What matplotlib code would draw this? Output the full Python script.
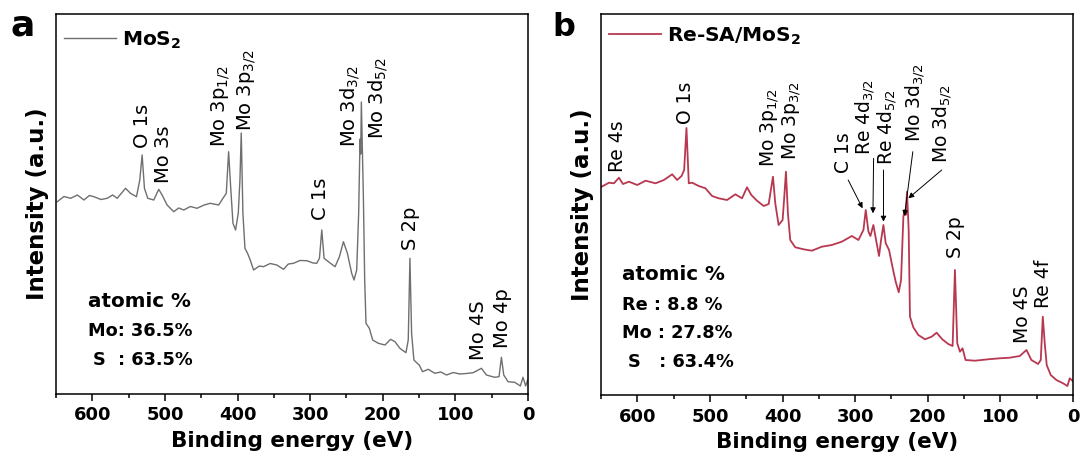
import matplotlib
matplotlib.use("Agg")
import matplotlib.pyplot as plt
from matplotlib.ticker import MultipleLocator

plt.rcParams['font.family'] = ['DejaVu Sans']
plt.rcParams['mathtext.fontset'] = 'dejavusans'

# --- survey spectra (binding energy eV, intensity a.u.) ---
mos2_ev = [648.2, 639.0, 629.9, 620.5, 611.5, 604.0, 597.8, 588.0, 579.5, 572.0,
           565.7, 554.3, 547.4, 539.2, 534.6, 531.4, 528.2, 523.6, 515.4, 508.5,
           503.9, 497.0, 487.9, 481.0, 474.1, 465.0, 455.8, 446.0, 437.5, 426.0,
           420.1, 415.5, 412.3, 409.5, 406.3, 402.7, 399.0, 396.7, 394.9, 392.6,
           389.8, 386.2, 382.5, 377.9, 370.0, 364.2, 355.0, 345.9, 336.7, 330.0,
           323.0, 314.0, 304.6, 296.0, 290.9, 287.2, 284.0, 280.8, 274.9, 265.7,
           259.7, 254.2, 248.7, 242.8, 239.6, 235.9, 233.2, 231.3, 230.4, 229.5,
           226.7, 224.9, 223.1, 218.5, 213.9, 206.1, 197.0, 189.2, 183.2, 176.4,
           168.1, 164.9, 162.6, 160.3, 157.1, 152.5, 149.8, 145.2, 137.4, 128.3,
           120.0, 112.2, 103.0, 93.9, 85.0, 75.6, 64.1, 57.3, 45.8, 39.9,
           36.6, 33.4, 27.5, 18.3, 10.5, 6.9, 3.2, 0.5]
mos2_int = [192.3, 197.5, 195.7, 199.0, 194.0, 198.5, 197.3, 194.5, 195.7, 199.0,
            195.7, 205.7, 200.7, 197.3, 214.0, 239.0, 205.7, 195.7, 194.0, 204.7,
            199.0, 189.0, 182.3, 186.0, 184.0, 187.5, 185.7, 189.0, 190.7, 189.0,
            195.7, 200.7, 242.3, 207.3, 170.7, 164.0, 180.7, 214.0, 261.0, 180.7,
            145.7, 140.7, 134.0, 124.0, 128.0, 127.3, 130.5, 129.0, 124.7, 130.0,
            130.7, 133.5, 133.3, 131.0, 130.7, 135.7, 164.0, 135.7, 132.3, 127.3,
            137.3, 152.3, 140.7, 120.7, 114.0, 124.0, 180.7, 255.0, 240.0, 292.0,
            197.3, 114.0, 70.7, 65.7, 54.0, 50.7, 49.0, 54.7, 52.3, 45.7,
            41.3, 54.0, 135.7, 60.7, 34.0, 30.7, 29.0, 22.3, 24.7, 20.7,
            22.0, 19.0, 21.5, 20.0, 20.5, 21.3, 25.7, 19.0, 16.7, 17.3,
            36.7, 19.0, 12.3, 11.7, 8.0, 16.7, 8.0, 14.0]

re_ev = [649.1, 639.0, 632.2, 625.3, 619.8, 611.5, 600.1, 588.6, 574.9, 563.4,
         552.0, 545.1, 539.1, 535.5, 532.3, 529.1, 524.5, 515.4, 506.2, 497.0,
         487.9, 476.4, 465.0, 455.8, 448.9, 443.0, 435.2, 426.0, 419.1, 413.2,
         410.0, 405.4, 399.9, 397.6, 395.3, 392.6, 389.4, 382.5, 371.0, 359.6,
         345.9, 332.1, 318.4, 304.6, 295.5, 288.6, 285.4, 281.7, 279.0, 274.9,
         271.2, 267.1, 264.3, 261.1, 257.9, 253.3, 248.7, 244.2, 240.0, 236.8,
         233.6, 231.8, 230.4, 228.6, 226.3, 224.5, 219.9, 213.0, 203.8, 194.7,
         187.8, 180.0, 171.8, 165.8, 162.6, 159.4, 155.7, 152.1, 148.0, 135.1,
         116.8, 100.8, 87.0, 73.3, 64.1, 57.3, 48.1, 44.4, 41.6, 38.9,
         36.2, 30.7, 22.9, 13.7, 7.7, 4.5, 0.9]
re_int = [208.3, 212.3, 211.7, 217.3, 211.0, 213.3, 210.0, 214.3, 211.7, 215.0,
          220.7, 215.0, 219.0, 225.0, 267.0, 211.7, 212.3, 209.0, 206.7, 199.0,
          196.7, 195.0, 200.7, 196.7, 207.7, 200.0, 194.3, 189.0, 191.0, 218.3,
          191.7, 170.0, 175.0, 198.3, 223.3, 181.7, 155.0, 147.7, 145.7, 144.3,
          148.3, 150.0, 153.3, 159.0, 155.0, 165.0, 185.0, 163.3, 159.0, 170.0,
          155.0, 139.0, 155.0, 170.0, 151.7, 145.0, 128.3, 113.3, 102.7, 115.0,
          178.3, 185.0, 180.0, 203.3, 165.0, 78.3, 67.7, 60.0, 55.7, 58.3,
          62.3, 55.7, 51.0, 49.0, 125.0, 51.7, 43.3, 46.7, 35.0, 34.3,
          35.7, 36.7, 37.3, 39.0, 45.0, 35.0, 31.0, 35.0, 78.3, 51.7,
          30.0, 20.0, 15.0, 11.7, 9.0, 16.7, 14.3]

# peak labels: text, energy, bottom of label (intensity)
mos2_labels = ['O 1s', 'Mo 3s', 'Mo 3p$_{1/2}$', 'Mo 3p$_{3/2}$', 'C 1s',
               'Mo 3d$_{3/2}$', 'Mo 3d$_{5/2}$', 'S 2p', 'Mo 4S', 'Mo 4p']
mos2_lab_ev = [530.6, 502, 424, 388, 286, 245, 206, 161.6, 68.7, 35.2]
mos2_lab_y = [246, 211, 247, 263, 174, 247, 255, 144, 34, 46]

re_labels = ['Re 4s', 'O 1s', 'Mo 3p$_{1/2}$', 'Mo 3p$_{3/2}$', 'C 1s',
             'Re 4d$_{3/2}$', 'Re 4d$_{5/2}$', 'Mo 3d$_{3/2}$', 'Mo 3d$_{5/2}$',
             'S 2p', 'Mo 4S', 'Re 4f']
re_lab_ev = [627, 533, 418, 388, 315.5, 286.5, 256.5, 217, 180, 161.2, 69.5, 41.2]
re_lab_y = [223, 271, 228, 235, 222, 240, 230, 253, 232, 137, 52, 87]

# arrows in panel b: (start energy, start int) -> (end energy, end int)
re_arrows = [((309.6, 215), (289.8, 186.7)),
             ((274.6, 236.7), (275.5, 181.7)),
             ((261.0, 225.0), (261.0, 173.3)),
             ((220.6, 243.3), (232.1, 179.0)),
             ((180.8, 225.0), (226.7, 196.7))]

mos2_comp = ['atomic %', 'Mo: 36.5%', 'S  : 63.5%']
re_comp = ['atomic %', 'Re : 8.8 %', 'Mo : 27.8%', 'S   : 63.4%']

gray = '#6f6f6f'
red = '#b83850'

fig = plt.figure(figsize=(10.84, 4.66), dpi=100)
ax1 = fig.add_axes([56 / 1084, 72 / 466, 472 / 1084, 380 / 466])
ax2 = fig.add_axes([601 / 1084, 71 / 466, 472 / 1084, 381 / 466])


def style(ax, ytop):
    ax.set_xlim(650, 0)
    ax.set_ylim(0, ytop)
    ax.set_yticks([])
    ax.xaxis.set_major_locator(MultipleLocator(100))
    ax.xaxis.set_minor_locator(MultipleLocator(50))
    ax.tick_params(axis='x', which='major', direction='out', length=5, width=1.1,
                   labelsize=13, pad=4)
    ax.tick_params(axis='x', which='minor', direction='out', length=3, width=1.1)
    for lbl in ax.get_xticklabels():
        lbl.set_fontweight('bold')
    for sp in ax.spines.values():
        sp.set_linewidth(1.1)
    ax.set_xlabel('Binding energy (eV)', fontsize=15.5, fontweight='bold', labelpad=5)
    ax.set_ylabel('Intensity (a.u.)', fontsize=16.5, fontweight='bold', labelpad=5)


style(ax1, 380)
style(ax2, 381)

ax1.plot(mos2_ev, mos2_int, color=gray, lw=1.0, label=r'MoS$_\mathbf{2}$')
ax2.plot(re_ev, re_int, color=red, lw=1.3, label=r'Re-SA/MoS$_\mathbf{2}$')

for ax, anchor in ((ax1, (8 / 472, 1 - 26 / 380)), (ax2, (8 / 472, 1 - 22 / 381))):
    ax.legend(loc='center left', bbox_to_anchor=anchor, frameon=False,
              prop={'weight': 'bold', 'size': 14.5}, handlelength=2.6,
              handletextpad=0.3, borderpad=0, borderaxespad=0)

for t, x, y in zip(mos2_labels, mos2_lab_ev, mos2_lab_y):
    ax1.text(x, y, t, rotation=90, ha='center', va='bottom', fontsize=14)
for t, x, y in zip(re_labels, re_lab_ev, re_lab_y):
    ax2.text(x, y, t, rotation=90, ha='center', va='bottom', fontsize=13.5)
for start, end in re_arrows:
    ax2.annotate('', xy=end, xytext=start,
                 arrowprops=dict(arrowstyle='-|>', color='black', lw=0.7,
                                 mutation_scale=8, shrinkA=0, shrinkB=0))

# composition text
ax1.text(0.068, 0.2297, mos2_comp[0], transform=ax1.transAxes, fontsize=14.3,
         fontweight='bold', va='baseline')
ax1.text(0.068, 0.1526, mos2_comp[1], transform=ax1.transAxes, fontsize=12.8,
         fontweight='bold', va='baseline')
ax1.text(0.078, 0.0763, mos2_comp[2], transform=ax1.transAxes, fontsize=12.8,
         fontweight='bold', va='baseline')

ax2.text(0.0445, 0.3018, re_comp[0], transform=ax2.transAxes, fontsize=14.3,
         fontweight='bold', va='baseline')
for t, y in zip(re_comp[1:3], (0.2231, 0.1496)):
    ax2.text(0.0445, y, t, transform=ax2.transAxes, fontsize=12.8,
             fontweight='bold', va='baseline')
ax2.text(0.057, 0.0735, re_comp[3], transform=ax2.transAxes, fontsize=12.8,
         fontweight='bold', va='baseline')

fig.text(10 / 1084, 1 - 35 / 466, 'a', fontsize=26, fontweight='bold', va='baseline')
fig.text(552 / 1084, 1 - 36 / 466, 'b', fontsize=23, fontweight='bold', va='baseline')

fig.savefig('out.png', dpi=100)
